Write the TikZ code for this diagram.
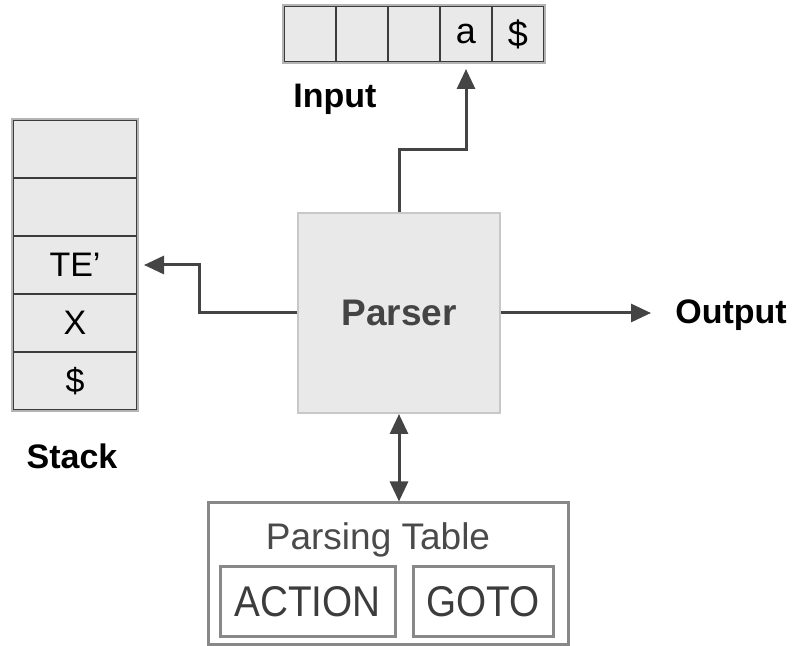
\documentclass[tikz,border=0pt]{standalone}
\usepackage{fontspec}
\setmainfont{Liberation Sans}
\newfontfamily\narrowfont{Liberation Sans}[FakeStretch=0.9]
\usetikzlibrary{arrows.meta}
\definecolor{cellfill}{HTML}{E9E9E9}
\definecolor{cellline}{HTML}{3C3C3C}
\definecolor{rimgray}{HTML}{B4B4B4}
\definecolor{boxgray}{HTML}{C8C8C8}
\definecolor{tablegray}{HTML}{888888}
\definecolor{arrowgray}{HTML}{444444}
\definecolor{textgray}{HTML}{4A4A4A}
\tikzstyle{stackcell}=[rectangle, draw=cellline, fill=cellfill, line width=1pt, inner sep=0pt, minimum width=62pt, minimum height=29pt, font=\fontsize{17}{20}\selectfont]
\tikzstyle{tapecell}=[stackcell, minimum width=26pt, minimum height=28pt, font=\fontsize{18}{20}\selectfont]
\tikzstyle{lbl}=[inner sep=0pt, font=\fontsize{17}{20}\selectfont\bfseries]
\tikzstyle{tablebox}=[rectangle, draw=tablegray, line width=1.5pt, inner sep=0pt, text=cellline, font=\narrowfont\fontsize{21.5}{24}\selectfont]
\tikzstyle{arr}=[draw=arrowgray, line width=1.5pt, ->]
\tikzstyle{darr}=[arr, <->]
\newcommand{\stackcell}{\node[stackcell]}
\newcommand{\tapecell}{\node[tapecell]}

\begin{document}
\begin{tikzpicture}[x=0.5pt, y=-0.5pt, >={Triangle[length=10pt,width=9pt]}]
\useasboundingbox (0,0) rectangle (794,646);
% input tape
\tapecell (in1) at (310,34) {};
\tapecell (in2) at (362,34) {};
\tapecell (in3) at (414,34) {};
\tapecell (in4) at (466,34) {a};
\tapecell (in5) at (518,34) {\$};
\draw[rimgray, line width=1pt] (in1.north west) rectangle (in5.south east);
\node[lbl, anchor=base] (inlbl) at (335,108) {Input};
% stack
\stackcell (st1) at (75,149) {};
\stackcell (st2) at (75,207) {};
\stackcell (st3) at (75,265) {TE'};
\stackcell (st4) at (75,323) {X};
\stackcell (st5) at (75,381) {\$};
\draw[rimgray, line width=1pt] (st1.north west) rectangle (st5.south east);
\node[lbl, anchor=base] (stlbl) at (72,469) {Stack};
% parser
\node[rectangle, draw=boxgray, fill=cellfill, line width=1pt, inner sep=0pt,
      minimum width=101pt, minimum height=100pt, text=arrowgray,
      font=\fontsize{18.5}{20}\selectfont\bfseries] (parser) at (399,313) {Parser};
\node[lbl, anchor=base west] (outlbl) at (675,324) {Output};
% parsing table
\node[tablebox, minimum width=180pt, minimum height=71pt] (ptable) at (388,574) {};
\node[inner sep=0pt, anchor=base, text=textgray, font=\fontsize{18.5}{20}\selectfont] (ptitle) at (378,550) {Parsing Table};
\node[tablebox, minimum width=87.5pt, minimum height=35pt] (action) at (307.5,602) {ACTION};
\node[tablebox, minimum width=70pt, minimum height=35pt] (goto) at (483,602) {GOTO};
% connectors
\coordinate (bendin) at (0,150);
\coordinate (bendst) at (199,0);
\draw[arr, shorten >=3pt] (parser.north) -- (parser.north |- bendin) -| (in4.south);
\draw[arr, shorten >=3pt] (parser.west) -- (parser.west -| bendst) |- (st3.east);
\draw[arr, shorten >=12pt] (parser.east) -- (parser.east -| outlbl.west);
\draw[darr] (parser.south) -- (parser.south |- ptable.north);
\end{tikzpicture}
\end{document}
